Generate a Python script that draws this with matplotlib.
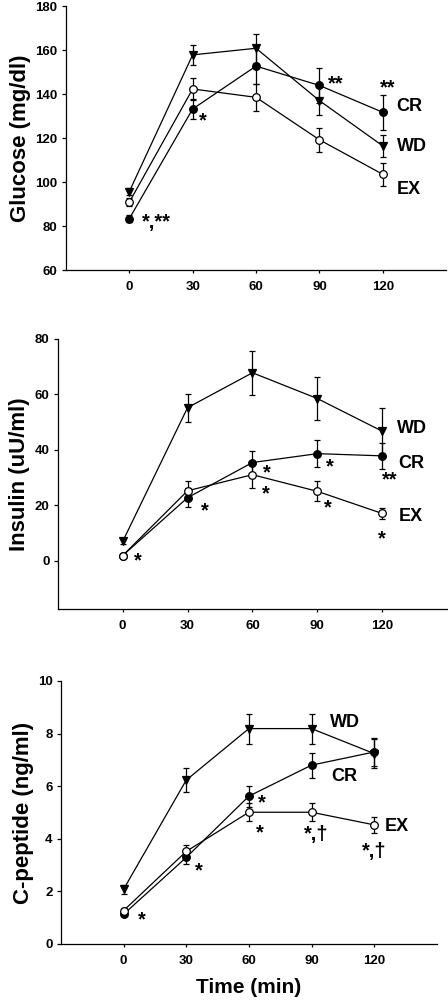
import matplotlib
matplotlib.use("Agg")
import matplotlib.pyplot as plt

plt.rcParams['font.family'] = ['Liberation Sans', 'DejaVu Sans']

time = [0, 30, 60, 90, 120]
xticks = [0, 30, 60, 90, 120]

# Glucose (mg/dl)
glu_wd = [95.6, 157.8, 160.8, 137.0, 116.4]
glu_wd_err = [1.5, 4.7, 6.5, 6.5, 5.0]
glu_cr = [83.3, 133.2, 152.7, 143.9, 131.7]
glu_cr_err = [1.5, 4.6, 8.0, 8.0, 8.0]
glu_ex = [90.8, 142.3, 138.5, 119.2, 103.5]
glu_ex_err = [1.8, 5.0, 6.0, 5.5, 5.3]

# Insulin (uU/ml)
ins_wd = [6.9, 55.2, 67.8, 58.5, 46.7]
ins_wd_err = [1.0, 5.0, 8.0, 7.6, 8.5]
ins_cr = [1.8, 22.7, 35.4, 38.6, 37.8]
ins_cr_err = [0.5, 3.4, 4.0, 5.0, 4.6]
ins_ex = [1.8, 25.2, 31.0, 25.0, 17.0]
ins_ex_err = [0.5, 3.4, 4.8, 3.6, 2.0]

# C-peptide (ng/ml)
cp_wd = [2.08, 6.23, 8.19, 8.19, 7.24]
cp_wd_err = [0.18, 0.45, 0.57, 0.57, 0.55]
cp_cr = [1.13, 3.29, 5.62, 6.80, 7.30]
cp_cr_err = [0.08, 0.25, 0.40, 0.47, 0.55]
cp_ex = [1.27, 3.52, 5.01, 5.01, 4.53]
cp_ex_err = [0.08, 0.24, 0.35, 0.34, 0.30]

fig = plt.figure(figsize=(4.48, 10.05), dpi=100)

panels = [
    dict(rect=[0.147, 0.7313, 0.849, 0.2627], ylim=(60, 180), yticks=[60, 80, 100, 120, 140, 160, 180],
         ylabel='Glucose (mg/dl)', wd=(glu_wd, glu_wd_err), cr=(glu_cr, glu_cr_err), ex=(glu_ex, glu_ex_err),
         labels=[('CR', 126.5, 134.2), ('WD', 126.5, 116.0), ('EX', 126.5, 96.4)],
         stars=[('*,**', 6.0, 81.5), ('*', 33.0, 128.0), ('**', 94.0, 144.5), ('**', 118.5, 143.0)]),
    dict(rect=[0.129, 0.394, 0.869, 0.2687], ylim=(-17.5, 80), yticks=[0, 20, 40, 60, 80],
         ylabel='Insulin (uU/ml)', wd=(ins_wd, ins_wd_err), cr=(ins_cr, ins_cr_err), ex=(ins_ex, ins_ex_err),
         labels=[('WD', 127.0, 47.7), ('CR', 127.5, 35.2), ('EX', 127.5, 15.9)],
         stars=[('*', 5.0, -0.2), ('*', 36.0, 17.9), ('*', 65.0, 31.8), ('*', 64.2, 24.2), ('*', 94.2, 33.8),
                ('*', 93.2, 18.9), ('**', 119.8, 29.0), ('*', 118.0, 8.0)]),
    dict(rect=[0.136, 0.0607, 0.839, 0.2617], ylim=(0, 10), yticks=[0, 2, 4, 6, 8, 10],
         ylabel='C-peptide (ng/ml)', wd=(cp_wd, cp_wd_err), cr=(cp_cr, cp_cr_err), ex=(cp_ex, cp_ex_err),
         labels=[('WD', 99.0, 8.44), ('CR', 99.5, 6.35), ('EX', 125.3, 4.46)],
         stars=[('*', 7.0, 0.93), ('*', 34.2, 2.77), ('*', 64.4, 5.36), ('*', 63.6, 4.22),
                ('*,\u2020', 86.5, 4.15), ('*,\u2020', 114.2, 3.5)]),
]

for i, p in enumerate(panels):
    ax = fig.add_axes(p['rect'])
    for key, marker, face in [('wd', 'v', 'black'), ('cr', 'o', 'black'), ('ex', 'o', 'white')]:
        vals, errs = p[key]
        ax.errorbar(time, vals, yerr=errs, color='black', lw=0.9, elinewidth=0.9,
                    capsize=2.5, capthick=0.9, marker=marker, markersize=5.5,
                    markerfacecolor=face, markeredgecolor='black', markeredgewidth=0.9, zorder=3)
    ax.set_xlim(-30, 150)
    ax.set_ylim(*p['ylim'])
    ax.set_xticks(xticks)
    ax.set_yticks(p['yticks'])
    ax.spines['top'].set_visible(False)
    ax.spines['right'].set_visible(False)
    ax.spines['left'].set_linewidth(0.9)
    ax.spines['bottom'].set_linewidth(0.9)
    ax.tick_params(axis='x', length=2, width=0.9, labelsize=9.5, pad=6)
    ax.tick_params(axis='y', length=3, width=0.9, labelsize=9.5, pad=3)
    for lab in ax.get_xticklabels() + ax.get_yticklabels():
        lab.set_fontweight('bold')
    ax.set_ylabel(p['ylabel'], fontsize=16, fontweight='bold', labelpad=3)
    for txt, x, y in p['labels']:
        ax.text(x, y, txt, fontsize=13, fontweight='bold', ha='left', va='center')
    for txt, x, y in p['stars']:
        ax.text(x, y, txt, fontsize=14.5, fontweight='bold', ha='left', va='center')
    if i == 2:
        ax.set_xlabel('Time (min)', fontsize=15, fontweight='bold', labelpad=8)

fig.savefig('out.png', dpi=100)
